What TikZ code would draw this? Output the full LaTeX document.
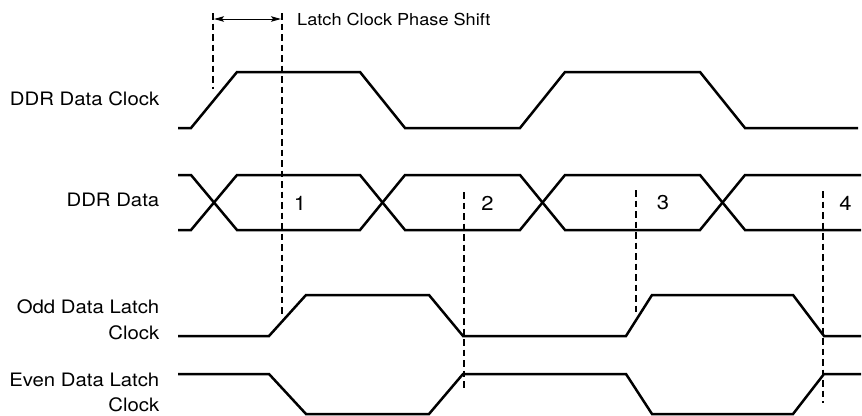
\documentclass[tikz,border=0pt]{standalone}
\usepackage{fontspec}
\setmainfont{TeX Gyre Heros}[FakeStretch=1.1]
\usetikzlibrary{arrows.meta}
\newcommand{\labelfont}{\fontsize{18.5}{25.5}\selectfont}
\newcommand{\notefont}{\fontsize{16.5}{20}\selectfont}
\newcommand{\bitfont}{\fontsize{20}{24}\selectfont}
\newcommand{\namex}{159.5}
\newcommand{\bity}{203}
\tikzset{
    wave/.style={line width=2.5pt},
    strobe/.style={dash pattern=on 6.5pt off 4pt, line width=1.3pt},
    siglabel/.style={anchor=east, inner sep=0pt, align=right, font=\labelfont},
    bit/.style={inner sep=0pt, font=\bitfont},
    note/.style={anchor=west, inner sep=0pt, font=\notefont},
    span/.style={{Stealth[length=10pt, width=5.5pt, inset=2pt]}-{Stealth[length=10pt, width=5.5pt, inset=2pt]}, line width=1pt}
}

\begin{document}
\begin{tikzpicture}[x=1pt, y=-1pt]
        \useasboundingbox (0,0) rectangle (862,415);

        % signal names
        \node[siglabel] (clk-name) at (\namex,99) {DDR Data Clock};
        \node[siglabel] (data-name) at (\namex,200) {DDR Data};
        \node[siglabel] (odd-name) at (\namex,320) {Odd Data Latch\\Clock};
        \node[siglabel] (even-name) at (\namex,392.5) {Even Data Latch\\Clock};

        % waveforms
        \draw[wave] (178,128) -- (191,128) -- (237,72) -- (360,72) -- (405,128)
            -- (520,128) -- (565,72) -- (700,72) -- (745,128) -- (858,128);
        \draw[wave] (178,175) -- (191,175) -- (237,230) -- (360,230) -- (405,175)
            -- (520,175) -- (565,230) -- (700,230) -- (745,175) -- (861,175);
        \draw[wave] (178,230) -- (191,230) -- (237,175) -- (360,175) -- (405,230)
            -- (520,230) -- (565,175) -- (700,175) -- (745,230) -- (861,230);
        \draw[wave] (178,336) -- (269,336) -- (306,295) -- (429,295) -- (463,336)
            -- (626,336) -- (652,295) -- (793,295) -- (824,336) -- (861,336);
        \draw[wave] (178,374) -- (269,374) -- (306,414) -- (429,414) -- (463,374)
            -- (626,374) -- (652,414) -- (793,414) -- (824,374) -- (861,374);

        % data bits
        \node[bit] (bit-1) at (300,\bity) {1};
        \node[bit] (bit-2) at (487.5,\bity) {2};
        \node[bit] (bit-3) at (663,\bity) {3};
        \node[bit] (bit-4) at (845.5,\bity) {4};

        % latch markers
        \draw[strobe] (213,13) -- (213,89);
        \draw[strobe] (282,13) -- (282,315);
        \draw[strobe] (464,192) -- (464,390);
        \draw[strobe] (636,190) -- (636,315);
        \draw[strobe] (823,191) -- (823,403);

        % phase shift
        \coordinate (shift-start) at (214,19);
        \coordinate (shift-end) at (281,19);
        \draw[span] (shift-start) -- (shift-end);
        \node[note] (shift-note) at (297,19) {Latch Clock Phase Shift};
\end{tikzpicture}
\end{document}
